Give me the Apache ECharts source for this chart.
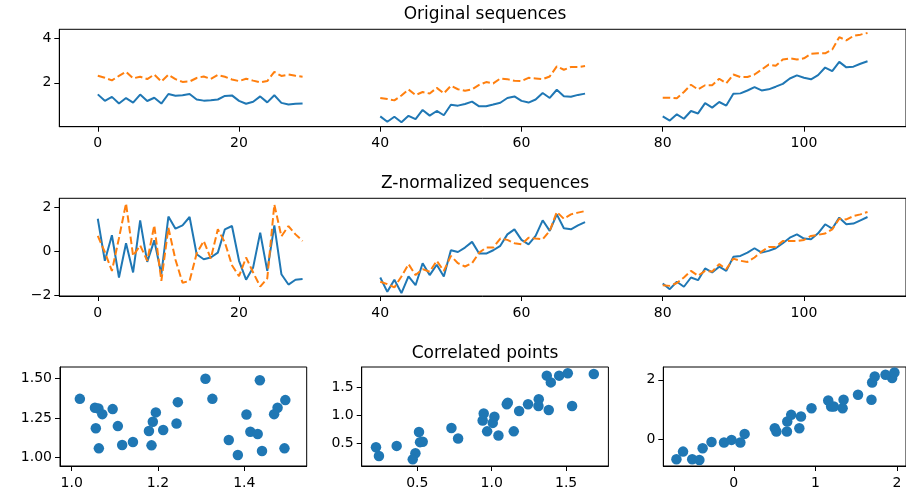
<!DOCTYPE html>
<html>
<head>
<meta charset="utf-8">
<script src="https://cdn.jsdelivr.net/npm/echarts@6/dist/echarts.min.js"></script>
<style>
  html, body { margin: 0; padding: 0; background: #fff; }
  #chart { width: 906px; height: 497px; }
</style>
</head>
<body>
<div id="chart"></div>
<script>
// x position where each 30-point segment starts
const segStarts = [0, 40, 80];

// original sequences (blue = solid, orange = dashed)
const origBlue1 = [1.477, 1.188, 1.364, 1.062, 1.310, 1.107, 1.469, 1.179, 1.326, 1.063, 1.495, 1.414, 1.441, 1.493, 1.243,
  1.195, 1.212, 1.246, 1.405, 1.431, 1.185, 1.056, 1.142, 1.385, 1.117, 1.436, 1.095, 1.019, 1.054, 1.071];
const origOrange1 = [2.314, 2.226, 2.110, 2.310, 2.498, 2.198, 2.274, 2.167, 2.371, 2.057, 2.363, 2.162, 2.040, 2.057, 2.215,
  2.285, 2.173, 2.350, 2.272, 2.148, 2.076, 2.184, 2.097, 2.015, 2.078, 2.489, 2.306, 2.371, 2.314, 2.274];
const origBlue2 = [0.487, 0.242, 0.469, 0.222, 0.511, 0.361, 0.774, 0.518, 0.729, 0.536, 1.007, 0.969, 1.045, 1.148, 0.939,
  0.946, 1.018, 1.101, 1.314, 1.383, 1.184, 1.108, 1.244, 1.540, 1.316, 1.686, 1.397, 1.370, 1.453, 1.511];
const origOrange2 = [1.315, 1.267, 1.206, 1.424, 1.697, 1.448, 1.582, 1.515, 1.770, 1.521, 1.861, 1.709, 1.636, 1.709, 1.903,
  2.030, 1.970, 2.194, 2.164, 2.091, 2.073, 2.224, 2.194, 2.164, 2.285, 2.739, 2.588, 2.709, 2.709, 2.752];
const origBlue3 = [0.490, 0.297, 0.578, 0.378, 0.727, 0.618, 1.080, 0.880, 1.133, 0.972, 1.502, 1.522, 1.651, 1.803, 1.655,
  1.703, 1.823, 1.952, 2.193, 2.333, 2.225, 2.157, 2.345, 2.687, 2.522, 2.940, 2.695, 2.727, 2.859, 2.968];
const origOrange3 = [1.326, 1.326, 1.303, 1.584, 1.910, 1.697, 1.888, 1.888, 2.180, 1.978, 2.371, 2.258, 2.258, 2.371, 2.596,
  2.820, 2.764, 3.045, 3.101, 3.045, 3.101, 3.303, 3.326, 3.326, 3.494, 4.056, 3.910, 4.112, 4.169, 4.247];

// z-normalized sequences
const normBlue1 = [1.46, -0.45, 0.71, -1.21, 0.35, -0.98, 1.39, -0.50, 0.48, -1.06, 1.56, 1.01, 1.16, 1.54, -0.15,
  -0.38, -0.30, -0.08, 0.98, 1.13, -0.45, -1.31, -0.75, 0.83, -0.91, 1.16, -1.06, -1.53, -1.31, -1.28];
const normOrange1 = [0.68, -0.05, -0.91, 0.58, 2.16, -0.23, 0.25, -0.45, 1.16, -1.36, 1.05, -0.40, -1.45, -1.36, -0.12,
  0.45, -0.35, 0.98, 0.38, -0.65, -1.15, -0.30, -0.98, -1.62, -1.25, 2.11, 0.66, 1.13, 0.75, 0.45];
const normBlue2 = [-1.21, -1.86, -1.31, -1.92, -1.16, -1.56, -0.56, -1.10, -0.63, -1.16, 0.03, -0.05, 0.15, 0.41, -0.12,
  -0.12, 0.03, 0.23, 0.75, 0.98, 0.50, 0.30, 0.68, 1.39, 0.91, 1.66, 1.03, 0.98, 1.16, 1.31];
const normOrange2 = [-1.40, -1.51, -1.66, -1.16, -0.60, -1.10, -0.83, -0.95, -0.45, -0.91, -0.23, -0.56, -0.71, -0.56, -0.08,
  0.15, 0.15, 0.56, 0.50, 0.35, 0.30, 0.60, 0.56, 0.53, 0.91, 1.77, 1.46, 1.66, 1.74, 1.81];
const normBlue3 = [-1.48, -1.74, -1.40, -1.63, -1.21, -1.33, -0.80, -0.98, -0.72, -0.91, -0.27, -0.23, -0.08, 0.12, -0.08,
  0.00, 0.12, 0.35, 0.60, 0.75, 0.56, 0.53, 0.80, 1.21, 1.01, 1.51, 1.21, 1.24, 1.39, 1.54];
const normOrange3 = [-1.56, -1.59, -1.46, -1.21, -0.91, -1.13, -0.91, -0.94, -0.60, -0.83, -0.35, -0.45, -0.50, -0.30, -0.03,
  0.18, 0.18, 0.45, 0.45, 0.45, 0.50, 0.68, 0.73, 0.79, 0.98, 1.46, 1.43, 1.58, 1.66, 1.77];

// correlated points
const scatterX1 = [1.477, 1.188, 1.364, 1.062, 1.310, 1.107, 1.469, 1.179, 1.326, 1.063, 1.495, 1.414, 1.441, 1.493, 1.243,
  1.195, 1.212, 1.246, 1.405, 1.431, 1.185, 1.056, 1.142, 1.385, 1.117, 1.436, 1.095, 1.019, 1.054, 1.071];
const scatterY1 = [1.314, 1.226, 1.110, 1.310, 1.498, 1.198, 1.274, 1.167, 1.371, 1.057, 1.363, 1.162, 1.040, 1.057, 1.215,
  1.285, 1.173, 1.350, 1.272, 1.148, 1.076, 1.184, 1.097, 1.015, 1.078, 1.489, 1.306, 1.371, 1.314, 1.274];
const scatterX2 = [0.487, 0.242, 0.469, 0.222, 0.511, 0.361, 0.774, 0.518, 0.729, 0.536, 1.007, 0.969, 1.045, 1.148, 0.939,
  0.946, 1.018, 1.101, 1.314, 1.383, 1.184, 1.108, 1.244, 1.540, 1.316, 1.686, 1.397, 1.370, 1.453, 1.511];
const scatterY2 = [0.315, 0.267, 0.206, 0.424, 0.697, 0.448, 0.582, 0.515, 0.770, 0.521, 0.861, 0.709, 0.636, 0.709, 0.903,
  1.030, 0.970, 1.194, 1.164, 1.091, 1.073, 1.224, 1.194, 1.164, 1.285, 1.739, 1.588, 1.709, 1.709, 1.752];
const scatterX3 = [-0.510, -0.703, -0.422, -0.622, -0.273, -0.382, 0.080, -0.120, 0.133, -0.028, 0.502, 0.522, 0.651, 0.803, 0.655,
  0.703, 0.823, 0.952, 1.193, 1.333, 1.225, 1.157, 1.345, 1.687, 1.522, 1.940, 1.695, 1.727, 1.859, 1.968];
const scatterY3 = [-0.674, -0.674, -0.697, -0.416, -0.090, -0.303, -0.112, -0.112, 0.180, -0.022, 0.371, 0.258, 0.258, 0.371, 0.596,
  0.820, 0.764, 1.045, 1.101, 1.045, 1.101, 1.303, 1.326, 1.326, 1.494, 2.056, 1.910, 2.112, 2.169, 2.247];

// tick labels
const seqXTicks = [0, 20, 40, 60, 80, 100];
const origYTicks = [2, 4];
const normYTicks = [-2, 0, 2];
const sc1XTicks = [1.0, 1.2, 1.4];
const sc1YTicks = [1.0, 1.25, 1.5];
const sc2XTicks = [0.5, 1.0, 1.5];
const sc2YTicks = [0.5, 1.0, 1.5];
const sc3XTicks = [0, 1, 2];
const sc3YTicks = [0, 2];

const BLUE = "#1f77b4";
const ORANGE = "#ff7f0e";
const FONT = "DejaVu Sans";

function fmt(v, d) {
  return v.toFixed(d).replace("-", "\u2212");
}

function axis(grid, min, max, ticks, d, margin) {
  return {
    type: "value",
    gridIndex: grid,
    min: min,
    max: max,
    splitLine: { show: false },
    axisLine: { show: true, onZero: false, lineStyle: { color: "#000", width: 1 } },
    axisTick: { show: true, length: 5, customValues: ticks, lineStyle: { color: "#000", width: 1 } },
    axisLabel: {
      customValues: ticks,
      formatter: (v) => fmt(v, d),
      color: "#000",
      fontSize: 14,
      fontFamily: FONT,
      margin: margin,
    },
  };
}

function segSeries(arr, k, grid, color, dashed) {
  const data = arr.map((v, i) => [segStarts[k] + i, v]);
  return {
    type: "line",
    xAxisIndex: grid,
    yAxisIndex: grid,
    data: data,
    showSymbol: false,
    symbol: "none",
    lineStyle: { color: color, width: 2, type: dashed ? [7.5, 3.3] : "solid" },
    z: dashed ? 3 : 2,
  };
}

function scatterSeries(xs, ys, grid) {
  return {
    type: "scatter",
    xAxisIndex: grid,
    yAxisIndex: grid,
    data: xs.map((x, i) => [x, ys[i]]),
    symbolSize: 10.5,
    itemStyle: { color: BLUE, opacity: 1 },
  };
}

const gridBase = { show: true, borderColor: "#000", borderWidth: 1, containLabel: false };

const titleStyle = { fontSize: 17, fontWeight: "normal", fontFamily: FONT, color: "#000" };

const chart = echarts.init(document.getElementById("chart"), null, { renderer: "canvas" });

const option = {
  animation: false,
  backgroundColor: "#fff",
  title: [
    { text: "Original sequences", left: 485, top: 6, textAlign: "center", padding: 0, textStyle: titleStyle },
    { text: "Z-normalized sequences", left: 485, top: 175, textAlign: "center", padding: 0, textStyle: titleStyle },
    { text: "Correlated points", left: 485, top: 345, textAlign: "center", padding: 0, textStyle: titleStyle },
  ],
  grid: [
    Object.assign({ left: 59.3, top: 29.3, width: 851.3, height: 97.4 }, gridBase),
    Object.assign({ left: 59.3, top: 198.3, width: 851.3, height: 97.7 }, gridBase),
    Object.assign({ left: 60, top: 367, width: 246.7, height: 99 }, gridBase),
    Object.assign({ left: 361.7, top: 367, width: 246.7, height: 99 }, gridBase),
    Object.assign({ left: 663.3, top: 367, width: 246.7, height: 99 }, gridBase),
  ],
  xAxis: [
    axis(0, -5.45, 114.45, seqXTicks, 0, 10),
    axis(1, -5.45, 114.45, seqXTicks, 0, 10),
    axis(2, 0.973, 1.5445, sc1XTicks, 1, 10),
    axis(3, 0.126, 1.784, sc2XTicks, 1, 10),
    axis(4, -0.864, 2.11, sc3XTicks, 0, 10),
  ],
  yAxis: [
    axis(0, 0.02, 4.41, origYTicks, 0, 8),
    axis(1, -2.05, 2.39, normYTicks, 0, 8),
    axis(2, 0.945, 1.573, sc1YTicks, 2, 8),
    axis(3, 0.087, 1.864, sc2YTicks, 1, 8),
    axis(4, -0.9, 2.43, sc3YTicks, 0, 8),
  ],
  series: [
    segSeries(origBlue1, 0, 0, BLUE, false),
    segSeries(origBlue2, 1, 0, BLUE, false),
    segSeries(origBlue3, 2, 0, BLUE, false),
    segSeries(origOrange1, 0, 0, ORANGE, true),
    segSeries(origOrange2, 1, 0, ORANGE, true),
    segSeries(origOrange3, 2, 0, ORANGE, true),
    segSeries(normBlue1, 0, 1, BLUE, false),
    segSeries(normBlue2, 1, 1, BLUE, false),
    segSeries(normBlue3, 2, 1, BLUE, false),
    segSeries(normOrange1, 0, 1, ORANGE, true),
    segSeries(normOrange2, 1, 1, ORANGE, true),
    segSeries(normOrange3, 2, 1, ORANGE, true),
    scatterSeries(scatterX1, scatterY1, 2),
    scatterSeries(scatterX2, scatterY2, 3),
    scatterSeries(scatterX3, scatterY3, 4),
  ],
};

option && chart.setOption(option, true);
</script>
</body>
</html>
